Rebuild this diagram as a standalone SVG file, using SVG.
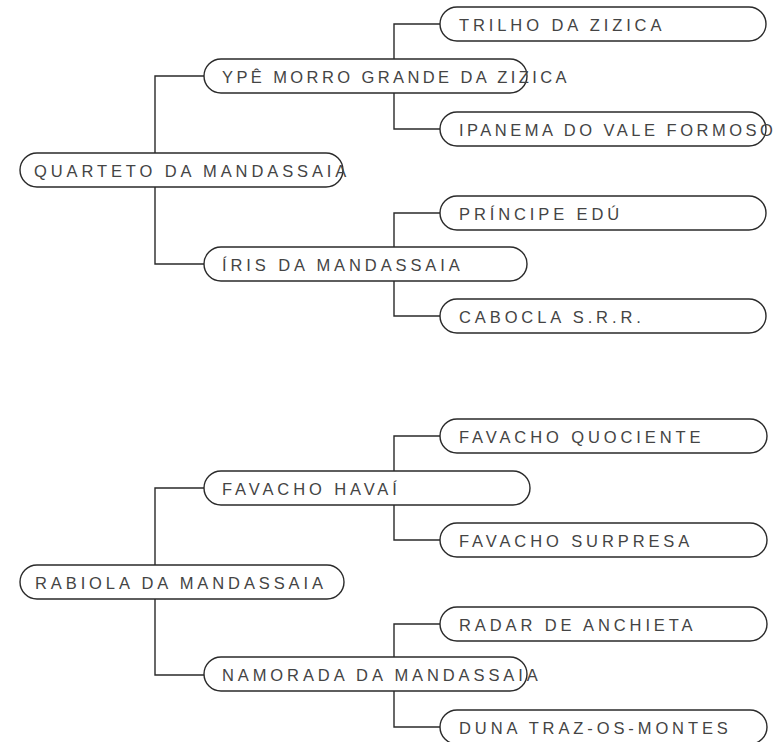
<svg xmlns="http://www.w3.org/2000/svg" width="778" height="742" viewBox="0 0 778 742">
<style>
.node rect{fill:#fff;stroke:#2a2a2a;stroke-width:1.4}
.node text{font-family:"Liberation Sans",Arial,sans-serif;font-size:16.5px;letter-spacing:3.9px;fill:#444}
.conn path{fill:none;stroke:#2a2a2a;stroke-width:1.4}
</style>
<rect width="778" height="742" fill="#fff"/>
<g id="connectors" class="conn">
<path d="M204,76H155V264H204"/>
<path d="M440,24H394V129H440"/>
<path d="M440,213H394V316H440"/>
<path d="M204,488H155V675H204"/>
<path d="M440,436H394V540H440"/>
<path d="M440,624H394V727H440"/>
</g>
<g id="n-quarteto" class="node"><rect x="20" y="153" width="323" height="34" rx="17"/><text x="34" y="176.5">QUARTETO DA MANDASSAIA</text></g>
<g id="n-ype" class="node"><rect x="204" y="59" width="323" height="34" rx="17"/><text x="222" y="82.5" style="letter-spacing:3.4px">YPÊ MORRO GRANDE DA ZIZICA</text></g>
<g id="n-trilho" class="node"><rect x="440" y="7" width="326" height="34" rx="17"/><text x="459" y="30.5">TRILHO DA ZIZICA</text></g>
<g id="n-ipanema" class="node"><rect x="440" y="112" width="326" height="34" rx="17"/><text x="459" y="135.5" style="letter-spacing:3.5px">IPANEMA DO VALE FORMOSO</text></g>
<g id="n-iris" class="node"><rect x="204" y="247" width="323" height="34" rx="17"/><text x="222" y="270.5">ÍRIS DA MANDASSAIA</text></g>
<g id="n-principe" class="node"><rect x="440" y="196" width="326" height="34" rx="17"/><text x="459" y="219.5">PRÍNCIPE EDÚ</text></g>
<g id="n-cabocla" class="node"><rect x="440" y="299" width="326" height="34" rx="17"/><text x="459" y="322.5">CABOCLA S.R.R.</text></g>
<g id="n-rabiola" class="node"><rect x="20" y="565" width="324" height="34" rx="17"/><text x="35" y="588.5">RABIOLA DA MANDASSAIA</text></g>
<g id="n-havai" class="node"><rect x="204" y="471" width="326" height="34" rx="17"/><text x="222" y="494.5">FAVACHO HAVAÍ</text></g>
<g id="n-quociente" class="node"><rect x="440" y="419" width="327" height="34" rx="17"/><text x="459" y="442.5">FAVACHO QUOCIENTE</text></g>
<g id="n-surpresa" class="node"><rect x="440" y="523" width="327" height="34" rx="17"/><text x="459" y="546.5">FAVACHO SURPRESA</text></g>
<g id="n-namorada" class="node"><rect x="204" y="657" width="323" height="34" rx="17"/><text x="222" y="680.5">NAMORADA DA MANDASSAIA</text></g>
<g id="n-radar" class="node"><rect x="440" y="607" width="327" height="34" rx="17"/><text x="459" y="630.5">RADAR DE ANCHIETA</text></g>
<g id="n-duna" class="node"><rect x="440" y="710" width="327" height="34" rx="17"/><text x="459" y="733.5">DUNA TRAZ-OS-MONTES</text></g>
</svg>
